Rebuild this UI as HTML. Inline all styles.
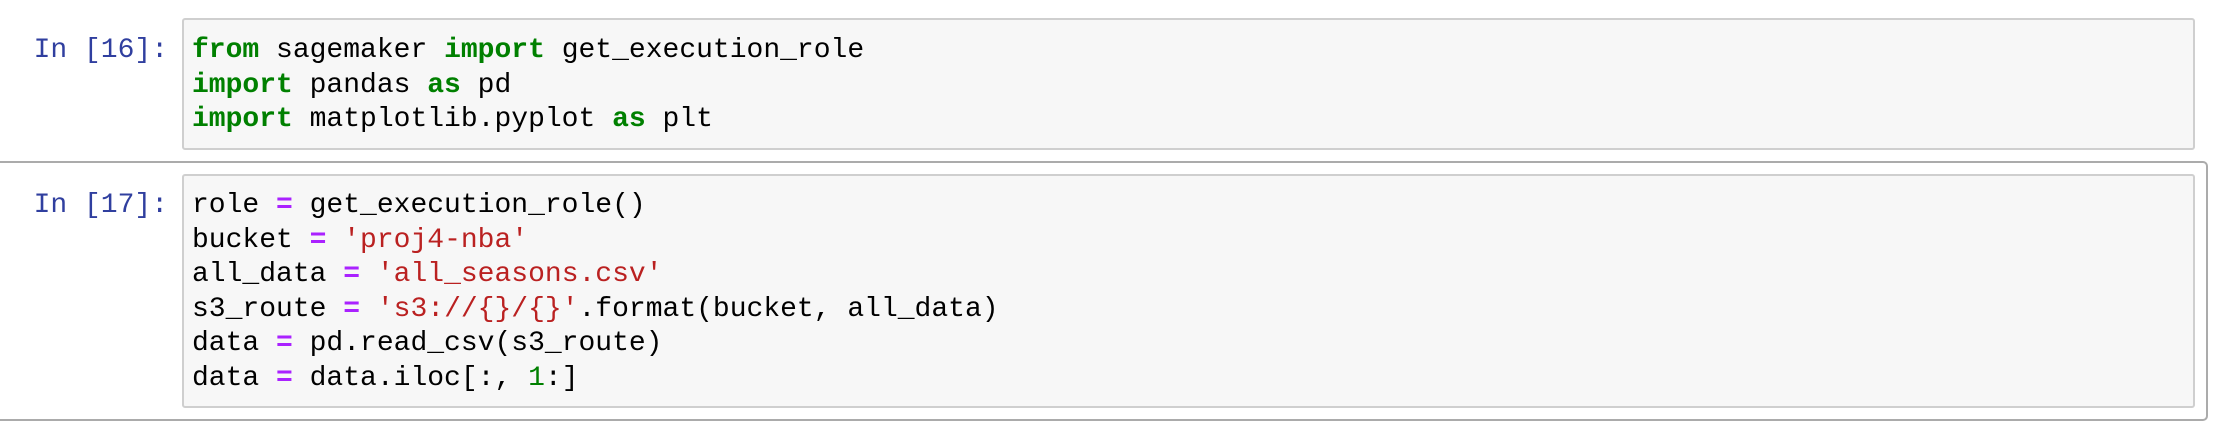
<!DOCTYPE html>
<html><head><meta charset="utf-8"><style>
body{margin:0;width:2220px;height:420px;background:#fff;position:relative;overflow:hidden;font-family:"Liberation Mono",monospace;font-size:28px;}
.outer{position:absolute;left:-10px;top:161px;width:2214px;height:256px;border:2px solid #ababab;border-radius:5px;}
.box{position:absolute;left:182px;width:2009px;background:#f7f7f7;border:2px solid #cfcfcf;border-radius:3px;}
.prompt{position:absolute;left:26px;width:142px;text-align:right;color:#303F9F;white-space:pre;line-height:34.6px;}
.code{position:absolute;left:192px;white-space:pre;line-height:34.6px;color:#000;}
.k{color:#008000;font-weight:bold}.s{color:#BA2121}.o{color:#AA22FF;font-weight:bold}.n{color:#008000}
</style></head><body>
<div class="box" style="top:18px;height:128px"></div>
<div class="outer"></div>
<div class="box" style="top:174px;height:230px"></div>
<div class="prompt" style="top:34px">In [16]:</div>
<div class="code" style="top:34px"><span class="k">from</span> sagemaker <span class="k">import</span> get_execution_role
<span class="k">import</span> pandas <span class="k">as</span> pd
<span class="k">import</span> matplotlib.pyplot <span class="k">as</span> plt</div>
<div class="prompt" style="top:189px">In [17]:</div>
<div class="code" style="top:189px">role <span class="o">=</span> get_execution_role()
bucket <span class="o">=</span> <span class="s">'proj4-nba'</span>
all_data <span class="o">=</span> <span class="s">'all_seasons.csv'</span>
s3_route <span class="o">=</span> <span class="s">'s3://{}/{}'</span>.format(bucket, all_data)
data <span class="o">=</span> pd.read_csv(s3_route)
data <span class="o">=</span> data.iloc[:, <span class="n">1</span>:]</div>
</body></html>
